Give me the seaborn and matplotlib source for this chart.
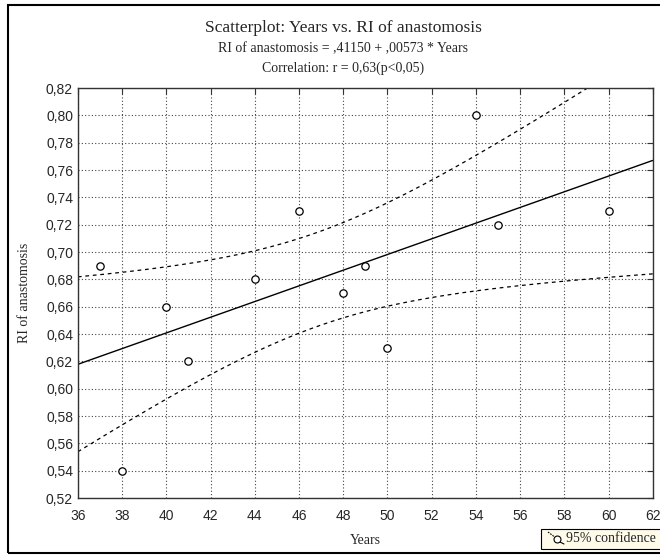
import numpy as np
import pandas as pd
import matplotlib.pyplot as plt
import seaborn as sns
from matplotlib.patches import Rectangle
from matplotlib.lines import Line2D

# values
years = [37, 38, 40, 41, 44, 46, 48, 49, 50, 54, 55, 60]
ri = [0.69, 0.54, 0.66, 0.62, 0.68, 0.73, 0.67, 0.69, 0.63, 0.80, 0.72, 0.73]
x_ticks = list(range(36, 63, 2))
y_ticks = [0.52, 0.54, 0.56, 0.58, 0.60, 0.62, 0.64, 0.66, 0.68, 0.70,
           0.72, 0.74, 0.76, 0.78, 0.80, 0.82]

df = pd.DataFrame({'Years': years, 'RI of anastomosis': ri})

sns.set_style('white')
plt.rcParams['font.family'] = ['Liberation Sans', 'DejaVu Sans']

fig = plt.figure(figsize=(6.6, 5.55), dpi=100)
ax = fig.add_axes([0.118, 0.1027, 0.871, 0.7387])

# linear fit and 95% confidence band for the mean
x = np.array(years, dtype=float)
y = np.array(ri)
n = len(x)
slope, intercept = np.polyfit(x, y, 1)
resid = y - (intercept + slope * x)
s = np.sqrt((resid ** 2).sum() / (n - 2))
sxx = ((x - x.mean()) ** 2).sum()
t = 2.228  # t(0.975, 10)
xs = np.linspace(36, 62, 200)
yhat = intercept + slope * xs
half = t * s * np.sqrt(1 / n + (xs - x.mean()) ** 2 / sxx)

ax.plot(xs, yhat, color='black', lw=1)
ax.plot(xs, yhat + half, color='black', lw=0.9, ls=(0, (3, 3)))
ax.plot(xs, yhat - half, color='black', lw=0.9, ls=(0, (3, 3)))

sns.scatterplot(data=df, x='Years', y='RI of anastomosis', ax=ax,
                marker='o', s=28, facecolor='white', edgecolor='black',
                linewidth=0.9, zorder=5)

ax.set_xlim(36, 62)
ax.set_ylim(0.52, 0.82)
ax.set_xticks(x_ticks)
ax.set_yticks(y_ticks)
ax.set_yticklabels([f'{v:.2f}'.replace('.', ',') for v in y_ticks])
ax.tick_params(direction='in', length=4, top=True, right=True, labelsize=10,
               color='#333333')
ax.tick_params(axis='x', pad=8)
ax.grid(True, color='#444444', ls=(0, (1, 2)), lw=0.8)
for sp in ax.spines.values():
    sp.set_color('#333333')
    sp.set_linewidth(1)

ax.set_xlabel('Years', family='Liberation Serif', fontsize=10, labelpad=8)
ax.set_ylabel('RI of anastomosis', family='Liberation Serif', fontsize=10,
              labelpad=11)

fig.text(0.52, 0.950, 'Scatterplot: Years vs. RI of anastomosis',
         ha='center', va='center', family='Liberation Serif', fontsize=12.5)
fig.text(0.52, 0.912, 'RI of anastomosis = ,41150 + ,00573 * Years',
         ha='center', va='center', family='Liberation Serif', fontsize=10)
fig.text(0.52, 0.877, 'Correlation: r = 0,63(p<0,05)',
         ha='center', va='center', family='Liberation Serif', fontsize=10)

# outer frame of the figure
fig.patches.append(Rectangle((8 / 660, 2 / 555), 1.0, 1 - 7 / 555,
                             transform=fig.transFigure, fill=False,
                             edgecolor='black', lw=1.5))

# legend box
fig.patches.append(Rectangle((541 / 660, 6 / 555), 0.3, 20 / 555,
                             transform=fig.transFigure, facecolor='#fffbea',
                             edgecolor='black', lw=0.8, zorder=3))
fig.lines.append(Line2D([548 / 660, 556 / 660], [23 / 555, 17 / 555],
                        transform=fig.transFigure, color='black', lw=0.8,
                        ls=(0, (1.5, 1)), zorder=4))
fig.lines.append(Line2D([557 / 660], [16 / 555], transform=fig.transFigure,
                        marker='o', ms=5, mfc='white', mec='black', mew=0.8,
                        zorder=5))
fig.lines.append(Line2D([560 / 660, 564 / 660], [13 / 555, 11 / 555],
                        transform=fig.transFigure, color='black', lw=0.8,
                        zorder=4))
fig.text(566 / 660, 16 / 555, '95% confidence', ha='left', va='center',
         family='Liberation Serif', fontsize=10, zorder=6)

fig.savefig('out.png', dpi=100)
